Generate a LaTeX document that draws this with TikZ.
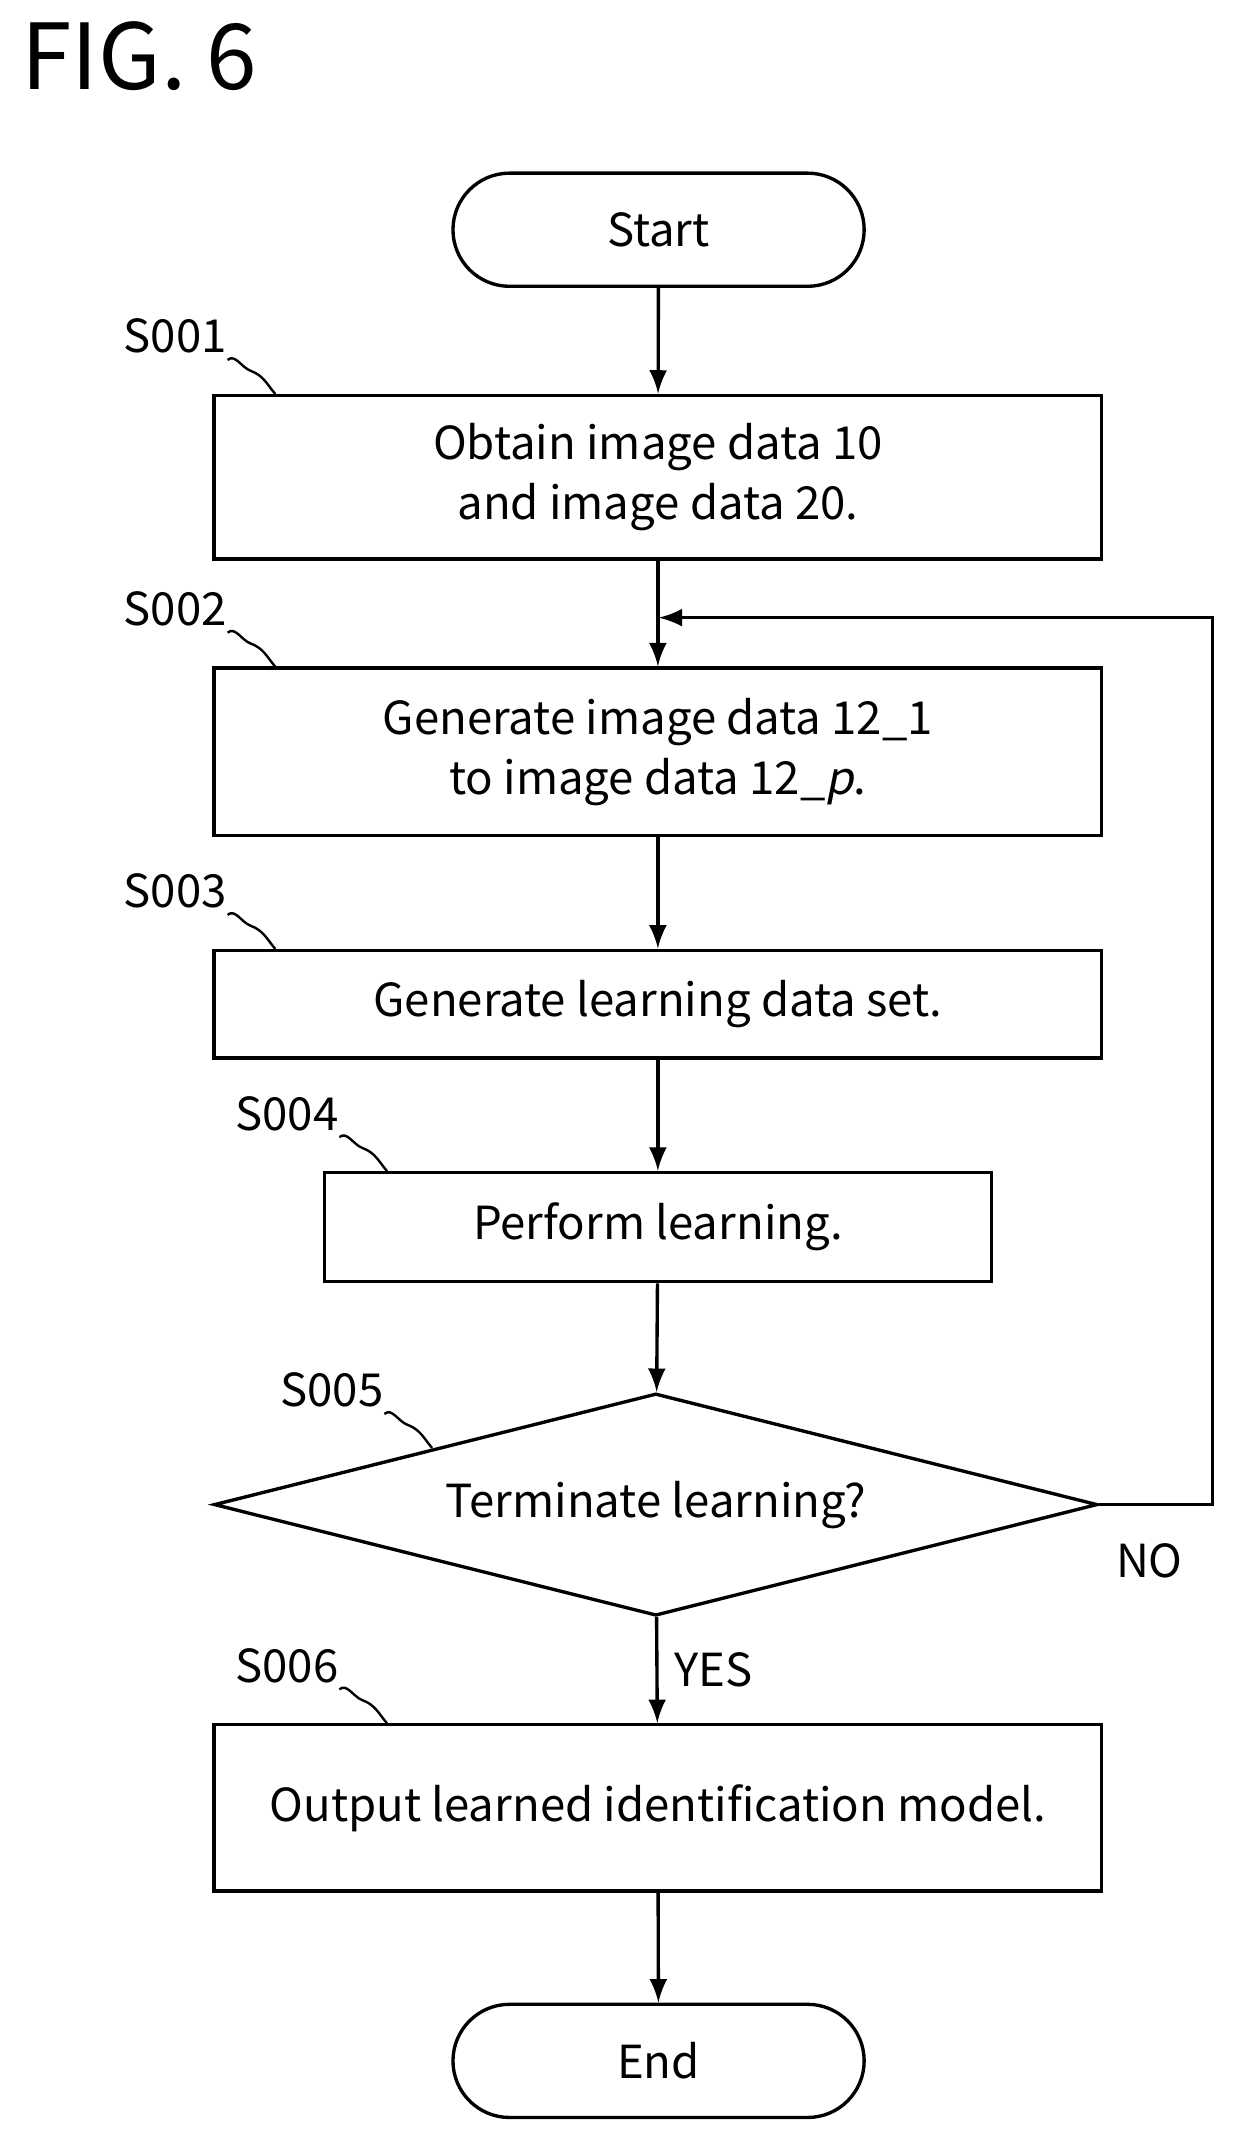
\documentclass[tikz,border=0pt]{standalone}
\usepackage{fontspec}
\setmainfont{Noto Sans CJK JP}[ItalicFont=Noto Sans CJK JP, ItalicFeatures={FakeSlant=0.2}]
\usetikzlibrary{shapes.geometric, shapes.misc, positioning}

\tikzset{
  box/.style={draw, line width=0.7pt, minimum width=6.51cm, align=center, font=\fontsize{9.5}{12.5}\selectfont},
  term/.style={draw, line width=0.7pt, rounded rectangle, minimum width=3.25cm, minimum height=0.83cm, font=\fontsize{9.5}{12}\selectfont},
  steplabel/.style={font=\fontsize{9.5}{12}\selectfont, anchor=south west, inner sep=0pt},
  flow/.style={-latex, line width=0.7pt},
  wave/.style={line width=0.5pt}
}

\begin{document}
\begin{tikzpicture}
\useasboundingbox (0,0) rectangle (9.08,-15.71);
\node[anchor=north west, font=\fontsize{19}{22}\selectfont, inner sep=0pt] at (0.15,-0.15) {FIG. 6};

\node[term] (start) at (4.83,-1.685) {Start};
\node[box, minimum height=1.2cm] (s1) at (4.825,-3.5) {Obtain image data 10\\and image data 20.};
\node[box, minimum height=1.23cm] (s2) at (4.825,-5.515) {Generate image data 12\_1\\to image data 12\_\textit{p}.};
\node[box, minimum height=0.79cm] (s3) at (4.825,-7.365) {Generate learning data set.};
\node[box, minimum width=4.89cm, minimum height=0.8cm] (s4) at (4.825,-9.0) {Perform learning.};
\node[draw, line width=0.7pt, diamond, aspect=4, minimum width=6.48cm, minimum height=1.63cm, inner sep=0pt, font=\fontsize{9.5}{12}\selectfont] (s5) at (4.81,-11.035) {Terminate learning?};
\node[box, minimum height=1.22cm] (s6) at (4.825,-13.26) {Output learned identification model.};
\node[term] (end) at (4.83,-15.115) {End};

% step labels
\node[steplabel] (l1) at (0.9,-2.6) {S001};
\node[steplabel] (l2) at (0.9,-4.6) {S002};
\node[steplabel] (l3) at (0.9,-6.67) {S003};
\node[steplabel] (l4) at (1.72,-8.3) {S004};
\node[steplabel] (l5) at (2.05,-10.33) {S005};
\node[steplabel] (l6) at (1.72,-12.35) {S006};

\foreach \l in {l1, l2, l3, l4, l5, l6}
  \draw[wave] (\l.south east) ++(0,-0.04) to[out=40,in=160] ++(0.17,-0.08) to[out=-20,in=130] ++(0.18,-0.17);

\draw[flow] (start) -- (s1);
\draw[flow] (s1) -- (s2);
\draw[flow] (s2) -- (s3);
\draw[flow] (s3) -- (s4);
\draw[flow] (s4) -- (s5);
\draw[flow] (s5) -- node[right, font=\fontsize{9.5}{12}\selectfont] {YES} (s6);
\draw[flow] (s6) -- (end);
\coordinate (loop) at (4.83,-4.53);
\draw[flow] (s5.east) -- ++(0.83,0) |- (loop);
\node[font=\fontsize{9.5}{12}\selectfont] (no) at (8.43,-11.45) {NO};
\end{tikzpicture}
\end{document}
